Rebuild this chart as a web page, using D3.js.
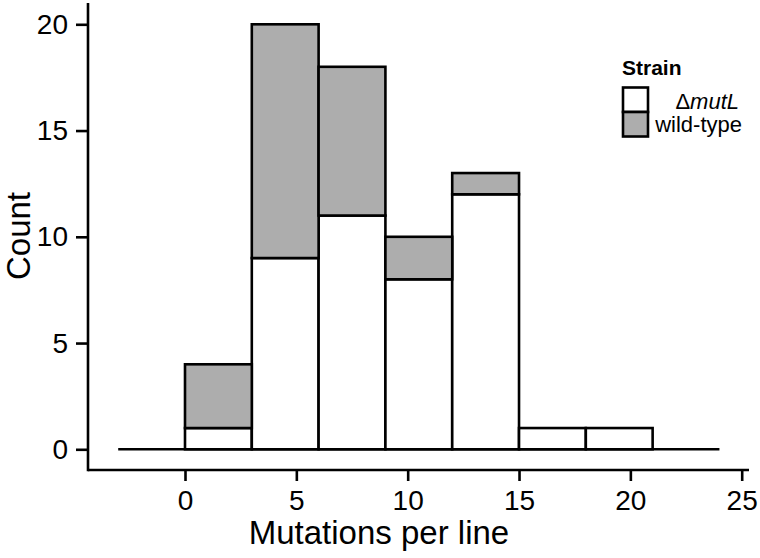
<!DOCTYPE html>
<html>
<head>
<meta charset="utf-8">
<script src="https://cdn.jsdelivr.net/npm/d3@7"></script>
<style>
  html, body { margin: 0; padding: 0; background: #fff; }
  svg { display: block; font-family: "Liberation Sans", Arial, sans-serif; }
</style>
</head>
<body>
<svg id="chart" width="760" height="558"></svg>
<script>
// ---- data ----
const binStarts = [0, 3, 6, 9, 12, 15, 18];
const binWidth = 3;
const mutL = [1, 9, 11, 8, 12, 1, 1];
const wildType = [3, 11, 7, 2, 1, 0, 0];
const baselineRange = [-3, 24];
const xTicks = [0, 5, 10, 15, 20, 25];
const yTicks = [0, 5, 10, 15, 20];
const strains = ["mutL", "wild-type"];
const fills = { "mutL": "#ffffff", "wild-type": "#adadad" };

const svg = d3.select("#chart");
const x = d3.scaleLinear().domain([0, 25]).range([185, 741.7]);
const y = d3.scaleLinear().domain([0, 20]).range([449.3, 24.3]);

const stroke = "#000";
const sw = 2.6;

// stacked bars
const rows = binStarts.map((b, i) => ({ start: b, mutL: mutL[i], "wild-type": wildType[i] }));
const stack = d3.stack().keys(strains)(rows);

// baseline
svg.append("line")
  .attr("x1", x(baselineRange[0])).attr("x2", x(baselineRange[1]))
  .attr("y1", y(0)).attr("y2", y(0))
  .attr("stroke", stroke).attr("stroke-width", sw);

stack.forEach(layer => {
  svg.append("g").selectAll("rect")
    .data(layer.filter(d => d[1] - d[0] > 0))
    .join("rect")
    .attr("x", d => x(d.data.start))
    .attr("width", d => x(d.data.start + binWidth) - x(d.data.start))
    .attr("y", d => y(d[1]))
    .attr("height", d => y(d[0]) - y(d[1]))
    .attr("fill", fills[layer.key])
    .attr("stroke", stroke)
    .attr("stroke-width", sw);
});

// axes
const axisY = 470, axisX = 88;
const xAxis = d3.axisBottom(x).tickValues(xTicks).tickSize(11).tickPadding(9).tickFormat(d3.format("d"));
const gx = svg.append("g").attr("transform", `translate(0,${axisY})`).call(xAxis);
gx.select(".domain").remove();
gx.append("line").attr("x1", axisX).attr("x2", 749).attr("y1", 0).attr("y2", 0)
  .attr("stroke", stroke).attr("stroke-width", sw);
gx.selectAll(".tick line").attr("stroke", stroke).attr("stroke-width", sw);
gx.selectAll(".tick text").attr("font-size", 28).attr("fill", "#000")
  .attr("font-family", "Liberation Sans, Arial, sans-serif");

const yAxis = d3.axisLeft(y).tickValues(yTicks).tickSize(12).tickPadding(8).tickFormat(d3.format("d"));
const gy = svg.append("g").attr("transform", `translate(${axisX},0)`).call(yAxis);
gy.select(".domain").remove();
gy.append("line").attr("x1", 0).attr("x2", 0).attr("y1", 3).attr("y2", axisY + sw / 2)
  .attr("stroke", stroke).attr("stroke-width", sw);
gy.selectAll(".tick line").attr("stroke", stroke).attr("stroke-width", sw);
gy.selectAll(".tick text").attr("font-size", 28).attr("fill", "#000")
  .attr("font-family", "Liberation Sans, Arial, sans-serif");

// axis titles
svg.append("text").attr("x", 379).attr("y", 544).attr("text-anchor", "middle")
  .attr("font-size", 33).text("Mutations per line");
svg.append("text").attr("transform", "translate(30,236) rotate(-90)").attr("text-anchor", "middle")
  .attr("font-size", 33).text("Count");

// legend
const lg = svg.append("g");
lg.append("text").attr("x", 622).attr("y", 75).attr("font-size", 21).attr("font-weight", "bold").text("Strain");
const boxX = 623, boxW = 25, boxH = 24.5, boxY0 = 87.5;
strains.forEach((s, i) => {
  lg.append("rect").attr("x", boxX).attr("y", boxY0 + i * boxH).attr("width", boxW).attr("height", boxH)
    .attr("fill", fills[s]).attr("stroke", stroke).attr("stroke-width", sw);
});
const t1 = lg.append("text").attr("x", 739).attr("y", 109).attr("text-anchor", "end").attr("font-size", 22);
t1.append("tspan").text("Δ");
t1.append("tspan").attr("font-style", "italic").text("mutL");
lg.append("text").attr("x", 742).attr("y", 132).attr("text-anchor", "end").attr("font-size", 22).text("wild-type");
</script>
</body>
</html>
